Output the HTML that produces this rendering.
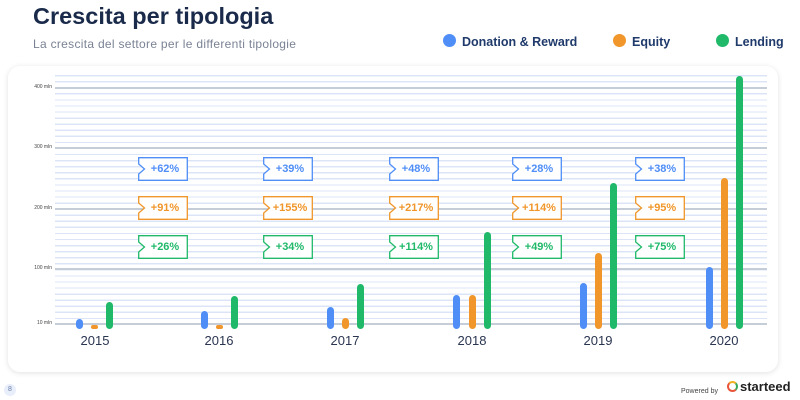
<!DOCTYPE html>
<html><head><style>
body{margin:0;width:800px;height:400px;background:#fff;font-family:"Liberation Sans",sans-serif;position:relative;overflow:hidden}
.t{position:absolute;left:33px;top:3px;font-size:23.5px;font-weight:bold;color:#1a2a4a}
.s{position:absolute;left:33px;top:37px;font-size:12px;color:#7a8294;letter-spacing:.3px}
.lg{position:absolute;top:35px;font-size:12.5px;font-weight:bold;color:#1f3a6b}
.lg i{position:absolute;left:-19px;top:-1px;width:13px;height:13px;border-radius:50%}
.card{position:absolute;left:8px;top:66px;width:770px;height:306px;border-radius:12px;box-shadow:0 1px 6px rgba(0,0,0,.12);background:#fff}
.grid{position:absolute;left:55px;top:75px;width:712px;height:255px;background:repeating-linear-gradient(to bottom,#dbe5f7 0,#dbe5f7 1.3px,transparent 1.3px,transparent 6.07px)}
.maj{position:absolute;left:55px;width:712px;height:1.5px;background:#c5cdd9}
.yl{position:absolute;left:18px;width:34px;text-align:right;font-size:5px;color:#444}
.b{position:absolute;width:7px;border-radius:4px;bottom:71px}
.yr{position:absolute;top:333px;font-size:13px;color:#2a3550;width:50px;text-align:center}
.bd{position:absolute;width:50px;height:24px;font-size:11px;font-weight:bold;line-height:24px;text-align:center}
.bd svg{position:absolute;left:0;top:0}
.bd span{position:relative;padding-left:4px}
</style></head><body>
<svg width="0" height="0" style="position:absolute"><defs><path id="tg" d="M0.7,0.7 H49.3 V23.3 H0.7 V17 L6.5,12 L0.7,7 Z" fill="#fff" stroke="currentColor" stroke-width="1.3"/></defs></svg>
<div class="t">Crescita per tipologia</div>
<div class="s">La crescita del settore per le differenti tipologie</div>
<div class="lg" style="left:462px"><i style="background:#4f8ef7"></i>Donation &amp; Reward</div>
<div class="lg" style="left:632px"><i style="background:#f0962a"></i>Equity</div>
<div class="lg" style="left:735px"><i style="background:#20b96a"></i>Lending</div>
<div class="card"></div>
<div class="grid"></div>
<div class="maj" style="top:87px"></div><div class="maj" style="top:147px"></div><div class="maj" style="top:208px"></div><div class="maj" style="top:268px"></div><div class="maj" style="top:323px"></div>
<div class="yl" style="top:84px">400 mln</div><div class="yl" style="top:144px">300 mln</div><div class="yl" style="top:205px">200 mln</div><div class="yl" style="top:265px">100 mln</div><div class="yl" style="top:320px">10 mln</div>
<div class="b" style="left:76px;height:10px;background:#4f8ef7"></div>
<div class="b" style="left:91px;height:4px;background:#f0962a"></div>
<div class="b" style="left:106px;height:27px;background:#20b96a"></div>
<div class="b" style="left:201px;height:18px;background:#4f8ef7"></div>
<div class="b" style="left:216px;height:4px;background:#f0962a"></div>
<div class="b" style="left:231px;height:33px;background:#20b96a"></div>
<div class="b" style="left:327px;height:22px;background:#4f8ef7"></div>
<div class="b" style="left:342px;height:11px;background:#f0962a"></div>
<div class="b" style="left:357px;height:45px;background:#20b96a"></div>
<div class="b" style="left:453px;height:34px;background:#4f8ef7"></div>
<div class="b" style="left:469px;height:34px;background:#f0962a"></div>
<div class="b" style="left:484px;height:97px;background:#20b96a"></div>
<div class="b" style="left:580px;height:46px;background:#4f8ef7"></div>
<div class="b" style="left:595px;height:76px;background:#f0962a"></div>
<div class="b" style="left:610px;height:146px;background:#20b96a"></div>
<div class="b" style="left:706px;height:62px;background:#4f8ef7"></div>
<div class="b" style="left:721px;height:151px;background:#f0962a"></div>
<div class="b" style="left:736px;height:253px;background:#20b96a"></div>
<div class="yr" style="left:70px">2015</div><div class="yr" style="left:194px">2016</div><div class="yr" style="left:320px">2017</div><div class="yr" style="left:447px">2018</div><div class="yr" style="left:573px">2019</div><div class="yr" style="left:699px">2020</div>
<div class="bd" style="left:138px;top:157px;color:#4f8ef7"><svg width="50" height="24"><use href="#tg"/></svg><span>+62%</span></div>
<div class="bd" style="left:138px;top:196px;color:#f0962a"><svg width="50" height="24"><use href="#tg"/></svg><span>+91%</span></div>
<div class="bd" style="left:138px;top:235px;color:#20b96a"><svg width="50" height="24"><use href="#tg"/></svg><span>+26%</span></div>
<div class="bd" style="left:263px;top:157px;color:#4f8ef7"><svg width="50" height="24"><use href="#tg"/></svg><span>+39%</span></div>
<div class="bd" style="left:263px;top:196px;color:#f0962a"><svg width="50" height="24"><use href="#tg"/></svg><span>+155%</span></div>
<div class="bd" style="left:263px;top:235px;color:#20b96a"><svg width="50" height="24"><use href="#tg"/></svg><span>+34%</span></div>
<div class="bd" style="left:389px;top:157px;color:#4f8ef7"><svg width="50" height="24"><use href="#tg"/></svg><span>+48%</span></div>
<div class="bd" style="left:389px;top:196px;color:#f0962a"><svg width="50" height="24"><use href="#tg"/></svg><span>+217%</span></div>
<div class="bd" style="left:389px;top:235px;color:#20b96a"><svg width="50" height="24"><use href="#tg"/></svg><span>+114%</span></div>
<div class="bd" style="left:512px;top:157px;color:#4f8ef7"><svg width="50" height="24"><use href="#tg"/></svg><span>+28%</span></div>
<div class="bd" style="left:512px;top:196px;color:#f0962a"><svg width="50" height="24"><use href="#tg"/></svg><span>+114%</span></div>
<div class="bd" style="left:512px;top:235px;color:#20b96a"><svg width="50" height="24"><use href="#tg"/></svg><span>+49%</span></div>
<div class="bd" style="left:635px;top:157px;color:#4f8ef7"><svg width="50" height="24"><use href="#tg"/></svg><span>+38%</span></div>
<div class="bd" style="left:635px;top:196px;color:#f0962a"><svg width="50" height="24"><use href="#tg"/></svg><span>+95%</span></div>
<div class="bd" style="left:635px;top:235px;color:#20b96a"><svg width="50" height="24"><use href="#tg"/></svg><span>+75%</span></div>
<div style="position:absolute;left:4px;top:384px;width:12px;height:12px;border-radius:50%;background:#e8eefa;font-size:7px;color:#6b7fa8;text-align:center;line-height:12px">8</div>
<div style="position:absolute;left:681px;top:388px;font-size:7px;color:#444">Powered by</div>
<div style="position:absolute;left:727px;top:381px;width:11px;height:11px;border-radius:50%;border:2.5px solid #e8553a;border-top-color:#f0b020;border-right-color:#3aaa5a;box-sizing:border-box"></div>
<div style="position:absolute;left:740px;top:379px;font-size:13px;font-weight:bold;color:#222">starteed</div>
</body></html>
